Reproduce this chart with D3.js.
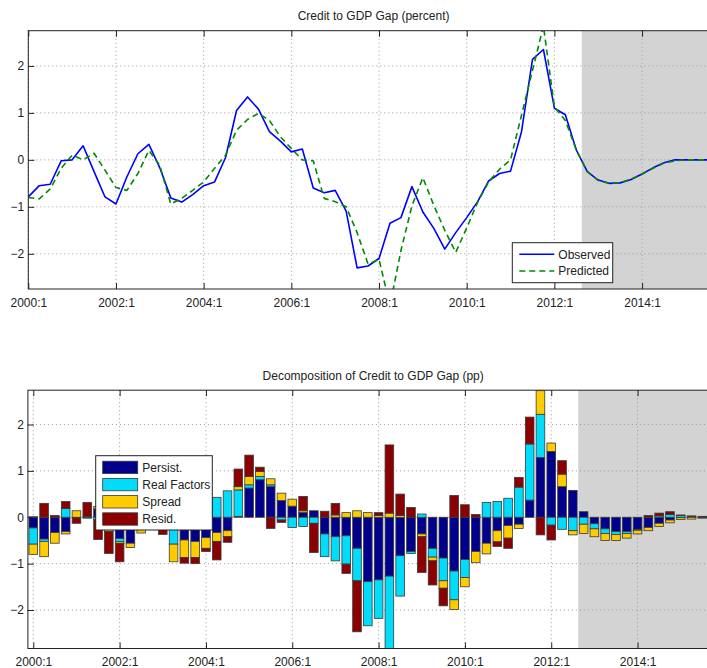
<!DOCTYPE html>
<html>
<head>
<meta charset="utf-8">
<script src="https://cdn.jsdelivr.net/npm/d3@7"></script>
<style>
  body { margin: 0; background: #fff; }
  svg { display: block; font-family: "Liberation Sans", Arial, Helvetica, sans-serif; }
</style>
</head>
<body>
<svg id="chart" width="707" height="668"></svg>
<script>
// Quarterly periods, 2000:1 to 2015:4
const quarters = [
  "2000:1","2000:2","2000:3","2000:4","2001:1","2001:2","2001:3","2001:4",
  "2002:1","2002:2","2002:3","2002:4","2003:1","2003:2","2003:3","2003:4",
  "2004:1","2004:2","2004:3","2004:4","2005:1","2005:2","2005:3","2005:4",
  "2006:1","2006:2","2006:3","2006:4","2007:1","2007:2","2007:3","2007:4",
  "2008:1","2008:2","2008:3","2008:4","2009:1","2009:2","2009:3","2009:4",
  "2010:1","2010:2","2010:3","2010:4","2011:1","2011:2","2011:3","2011:4",
  "2012:1","2012:2","2012:3","2012:4","2013:1","2013:2","2013:3","2013:4",
  "2014:1","2014:2","2014:3","2014:4","2015:1","2015:2","2015:3","2015:4"
];
const tickLabels = ["2000:1","2002:1","2004:1","2006:1","2008:1","2010:1","2012:1","2014:1"];
const yTicks = [-2, -1, 0, 1, 2];
const forecastFirst = "2012:4";   // first projected quarter (shaded)

// Credit to GDP gap, percent
const observed = [
  -0.79,-0.55,-0.52,-0.02, 0.00, 0.30,-0.25,-0.79,
  -0.94,-0.36, 0.13, 0.33,-0.17,-0.81,-0.90,-0.74,
  -0.55,-0.47, 0.05, 1.05, 1.34, 1.08, 0.60, 0.40,
   0.17, 0.23,-0.60,-0.70,-0.65,-1.09,-2.30,-2.26,
  -2.10,-1.35,-1.23,-0.57,-1.11,-1.46,-1.90,-1.55,
  -1.23,-0.89,-0.45,-0.29,-0.24, 0.60, 2.14, 2.35,
   1.10, 0.96, 0.21,-0.25,-0.43,-0.50,-0.49,-0.42,
  -0.30,-0.17,-0.06, 0.00, 0.00, 0.00, 0.00, 0.00
];
const predicted = [
  -0.80,-0.83,-0.62,-0.18, 0.10, 0.00, 0.14,-0.22,
  -0.59,-0.65,-0.29, 0.20,-0.12,-0.94,-0.82,-0.65,
  -0.47,-0.18, 0.10, 0.63, 0.86, 0.99, 0.84, 0.49,
   0.24, 0.00,-0.02,-0.82,-0.89,-1.00,-1.55,-2.22,
  -2.12,-3.10,-1.93,-0.98,-0.38,-0.97,-1.50,-1.97,
  -1.45,-0.90,-0.47,-0.20, 0.00, 0.95, 1.90, 2.85,
   1.13, 0.84, 0.21,-0.25,-0.44,-0.50,-0.49,-0.41,
  -0.30,-0.18,-0.07,-0.02, 0.00, 0.00, 0.00, 0.00
];

// Decomposition of the gap, percentage points
const persist = [
  -0.23,-0.47,-0.33,-0.31,-0.01, 0.02, 0.18,-0.15,
  -0.46,-0.56,-0.22, 0.08, 0.20,-0.12,-0.49,-0.52,
  -0.44,-0.33,-0.29, 0.02, 0.63, 0.81, 0.66, 0.36,
   0.24, 0.10, 0.14,-0.36,-0.42,-0.40,-0.67,-1.39,
  -1.35,-1.27,-0.83,-0.74,-0.36,-0.67,-0.88,-1.16,
  -0.91,-0.74,-0.56,-0.29,-0.18,-0.15, 0.37, 1.29,
   1.42, 0.66, 0.58, 0.12,-0.14,-0.25,-0.31,-0.31,
  -0.26,-0.22,-0.13,-0.06,-0.01, 0.00, 0.00, 0.00
];
const realFactors = [
  -0.35,-0.05, 0.00, 0.19, 0.00,-0.02,-0.05, 0.00,
  -0.06, 0.15, 0.25, 0.15,-0.10,-0.46, 0.09, 0.26,
   0.19, 0.43, 0.57, 0.57, 0.07, 0.07, 0.04,-0.06,
  -0.22,-0.20,-0.13,-0.49,-0.52,-0.61,-0.70,-0.95,
  -0.83,-1.64,-0.87,-0.04, 0.07,-0.19,-0.49,-0.62,
  -0.39, 0.00, 0.32, 0.34, 0.41, 0.65, 1.21, 0.93,
  -0.17,-0.26,-0.29,-0.15,-0.11,-0.10,-0.06,-0.04,
  -0.02, 0.00, 0.03, 0.06, 0.04, 0.01, 0.00, 0.00
];
const spread = [
  -0.22,-0.33,-0.23,-0.05, 0.14, 0.00, 0.05,-0.16,
  -0.04,-0.09,-0.12,-0.05,-0.05,-0.38,-0.38,-0.35,
  -0.23,-0.19,-0.13, 0.07, 0.18, 0.11, 0.13, 0.16,
   0.15, 0.04, 0.00, 0.00, 0.05, 0.10, 0.14, 0.10,
   0.04, 0.09, 0.04, 0.00,-0.06,-0.08,-0.16,-0.21,
  -0.20,-0.24,-0.23,-0.24,-0.27,-0.09, 0.00, 0.51,
   0.18, 0.27,-0.09,-0.20,-0.17,-0.15,-0.13,-0.10,
  -0.08,-0.07,-0.07,-0.06,-0.04,-0.04,-0.02, 0.00
];
const resid = [
   0.01, 0.30, 0.04, 0.15,-0.12, 0.30,-0.43,-0.47,
  -0.40, 0.14, 0.22, 0.15,-0.22, 0.15,-0.12,-0.13,
  -0.07,-0.40,-0.12, 0.38, 0.46, 0.09,-0.24,-0.05,
   0.00, 0.31,-0.63, 0.13, 0.25,-0.20,-1.10, 0.00,
   0.06, 1.47, 0.46, 0.21,-0.77,-0.52,-0.38, 0.47,
   0.27, 0.06, 0.00,-0.10,-0.22, 0.21, 0.58,-0.38,
  -0.32, 0.29, 0.00, 0.00, 0.00, 0.00, 0.00, 0.00,
   0.00, 0.04, 0.06, 0.06, 0.01, 0.02, 0.02, 0.00
];
const componentNames = ["Persist.", "Real Factors", "Spread", "Resid."];
const componentColors = ["#00008c", "#00dcfa", "#ffcc00", "#8b0000"];

const svg = d3.select("#chart");
const ink = "#222";
const gridColor = "#9a9a9a";
const shadeColor = "#d3d3d3";
const tickIdx = tickLabels.map(t => quarters.indexOf(t));
const shadeIdx = quarters.indexOf(forecastFirst) - 0.5;
const yFormat = d3.format("d");

// ---------- shared panel furniture ----------
function panelFrame(g, x, y, box, clipId, title, titleY) {
  g.append("rect").attr("x", x(shadeIdx)).attr("y", box.top)
    .attr("width", box.right - x(shadeIdx)).attr("height", box.bottom - box.top)
    .attr("fill", shadeColor);

  const grid = g.append("g").attr("stroke", gridColor).attr("stroke-width", 1)
    .attr("stroke-dasharray", "1,3");
  grid.selectAll("line.v").data(tickIdx).join("line").attr("class", "v")
    .attr("x1", d => x(d)).attr("x2", d => x(d))
    .attr("y1", box.top).attr("y2", box.bottom);
  grid.selectAll("line.h").data(yTicks).join("line").attr("class", "h")
    .attr("x1", box.left).attr("x2", box.right)
    .attr("y1", d => y(d)).attr("y2", d => y(d));

  g.append("clipPath").attr("id", clipId).append("rect")
    .attr("x", box.left).attr("y", box.top)
    .attr("width", box.right - box.left).attr("height", box.bottom - box.top);

  g.append("text").attr("x", (box.left + box.right) / 2).attr("y", titleY)
    .attr("text-anchor", "middle").attr("font-size", 12).attr("fill", ink)
    .text(title);
}

function panelAxes(g, x, y, box) {
  const styleAxis = a => {
    a.select(".domain").remove();
    a.attr("font-family", null).attr("font-size", 12);
    a.selectAll(".tick line").attr("stroke", ink);
    a.selectAll(".tick text").attr("fill", ink);
  };
  g.append("g").attr("transform", `translate(0,${box.bottom})`)
    .call(d3.axisBottom(x).tickValues(tickIdx).tickFormat(i => quarters[i])
      .tickSize(-6).tickPadding(9))
    .call(styleAxis);
  g.append("g").attr("transform", `translate(0,${box.top})`)
    .call(d3.axisTop(x).tickValues(tickIdx).tickFormat("").tickSize(-6))
    .call(styleAxis);
  g.append("g").attr("transform", `translate(${box.left},0)`)
    .call(d3.axisLeft(y).tickValues(yTicks).tickFormat(yFormat).tickSize(-6).tickPadding(4))
    .call(styleAxis);
  g.append("rect").attr("x", box.left).attr("y", box.top)
    .attr("width", box.right - box.left).attr("height", box.bottom - box.top)
    .attr("fill", "none").attr("stroke", ink).attr("stroke-width", 1);
}

// ---------- top panel: observed vs predicted ----------
const topBox = { left: 28.3, right: 718.8, top: 30.7, bottom: 289 };
const xTop = d3.scaleLinear().domain([0, quarters.length - 1]).range([topBox.left, topBox.right]);
const yTop = d3.scaleLinear().domain([-2.75, 2.75]).range([topBox.bottom, topBox.top]);
const gTop = svg.append("g");
panelFrame(gTop, xTop, yTop, topBox, "clipTop", "Credit to GDP Gap (percent)", 20);

const line = d3.line().x((d, i) => xTop(i)).y(d => yTop(d));
const lines = gTop.append("g").attr("clip-path", "url(#clipTop)")
  .attr("fill", "none").attr("stroke-linejoin", "round");
lines.append("path").datum(observed).attr("d", line)
  .attr("stroke", "#0000ff").attr("stroke-width", 1.6);
lines.append("path").datum(predicted).attr("d", line)
  .attr("stroke", "#008a00").attr("stroke-width", 1.6).attr("stroke-dasharray", "6,4");

panelAxes(gTop, xTop, yTop, topBox);

const legTop = gTop.append("g").attr("transform", "translate(512.3,242.7)");
legTop.append("rect").attr("width", 100.4).attr("height", 40)
  .attr("fill", "#fff").attr("stroke", ink).attr("stroke-width", 1);
[["Observed", "#0000ff", null, 11.6], ["Predicted", "#008a00", "6,4", 28.3]].forEach(([name, col, dash, yy]) => {
  legTop.append("line").attr("x1", 7).attr("x2", 42).attr("y1", yy).attr("y2", yy)
    .attr("stroke", col).attr("stroke-width", 1.6).attr("stroke-dasharray", dash);
  legTop.append("text").attr("x", 46).attr("y", yy + 4.3)
    .attr("font-size", 12).attr("fill", ink).text(name);
});

// ---------- bottom panel: stacked decomposition ----------
const botBox = { left: 27.9, right: 718.5, top: 390.2, bottom: 648.5 };
const xBot = d3.scaleLinear().domain([-0.5, quarters.length - 0.5]).range([botBox.left, botBox.right]);
const yBot = d3.scaleLinear().domain([-2.83, 2.74]).range([botBox.bottom, botBox.top]);
const gBot = svg.append("g");
panelFrame(gBot, xBot, yBot, botBox, "clipBot", "Decomposition of Credit to GDP Gap (pp)", 380);

const rows = quarters.map((q, i) => ({
  q, i,
  "Persist.": persist[i], "Real Factors": realFactors[i],
  "Spread": spread[i], "Resid.": resid[i]
}));
const stacked = d3.stack().keys(componentNames).offset(d3.stackOffsetDiverging)(rows);
const bw = 0.8 * (xBot(1) - xBot(0));

const bars = gBot.append("g").attr("clip-path", "url(#clipBot)");
stacked.forEach((layer, k) => {
  bars.append("g").attr("fill", componentColors[k])
    .attr("stroke", "#3a3a3a").attr("stroke-width", 0.8)
    .selectAll("rect").data(layer.filter(d => d[1] !== d[0])).join("rect")
    .attr("x", d => xBot(d.data.i) - bw / 2)
    .attr("width", bw)
    .attr("y", d => yBot(Math.max(d[0], d[1])))
    .attr("height", d => Math.abs(yBot(d[0]) - yBot(d[1])));
});

panelAxes(gBot, xBot, yBot, botBox);

const legBot = gBot.append("g").attr("transform", "translate(95.7,455.7)");
legBot.append("rect").attr("width", 116.6).attr("height", 74.3)
  .attr("fill", "#fff").attr("stroke", ink).attr("stroke-width", 1);
componentNames.forEach((name, k) => {
  const yy = 5.5 + k * 17.2;
  legBot.append("rect").attr("x", 7).attr("y", yy).attr("width", 35).attr("height", 12.4)
    .attr("fill", componentColors[k]).attr("stroke", "#3a3a3a").attr("stroke-width", 0.8);
  legBot.append("text").attr("x", 46.6).attr("y", yy + 10.6)
    .attr("font-size", 12).attr("fill", ink).text(name);
});
</script>
</body>
</html>
